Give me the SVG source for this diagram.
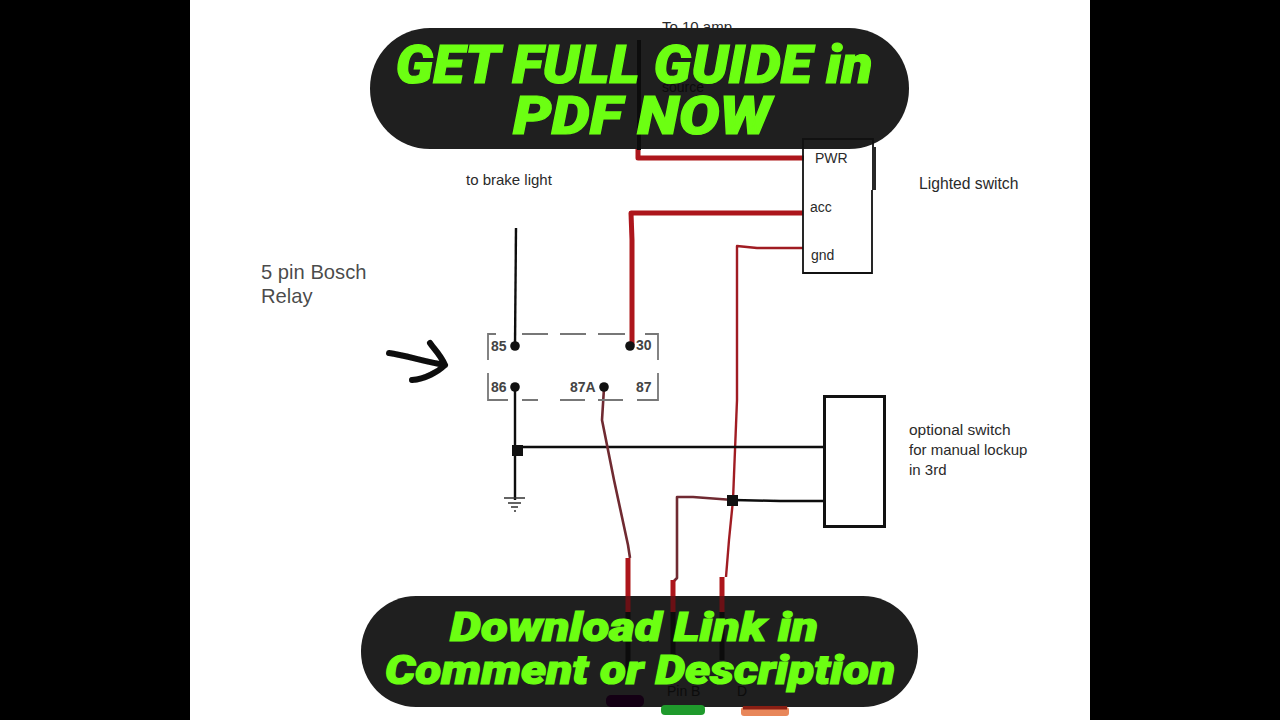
<svg xmlns="http://www.w3.org/2000/svg" width="1280" height="720" viewBox="0 0 1280 720">
<defs><filter id="soft" x="-5%" y="-5%" width="110%" height="110%"><feGaussianBlur stdDeviation="0.5"/></filter></defs>
<style>
.t{font-family:"Liberation Sans",Arial,sans-serif;fill:#2a2a2a}
.s{font-size:15.700px}
.m{font-size:14px;font-weight:bold;fill:#444}
.r{fill:none;stroke:#ad141c;stroke-width:5;stroke-linejoin:round}
.d{fill:none;stroke:#6f2a30;stroke-width:2.6;stroke-linejoin:round}
.k{fill:none;stroke:#111;stroke-width:2.4}
.b{fill:none;stroke:#777;stroke-width:1.8}
.u{fill:none;stroke:#0c0c0c;stroke-width:5}
.n{font-family:"Liberation Sans",Arial,sans-serif;font-size:14px;fill:#0c0c0c}
.g{font-family:Roboto,sans-serif;font-weight:900;font-style:italic;fill:#6cff12;text-anchor:middle;stroke:#6cff12;stroke-width:1.2}
</style>
<rect width="1280" height="720" fill="#000"/>
<rect x="190" width="900" height="720" fill="#fff"/>
<g id="connectors" filter="url(#soft)">
<path class="r" d="M638 140V158H804"/>
<path class="r" d="M632 345V240L631 213H803"/>
<path class="d" style="stroke:#a01c24;stroke-width:2.400" d="M803 248L757 248L737 246V400L733 500L729 540L726 577"/>
<path class="k" d="M516 228L515 345"/>
<path class="k" d="M515 388V500"/>
<path class="k" d="M517 447H824"/>
<path class="k" d="M733 500L780 501H828"/>
<path class="d" d="M604 388L602 420L614 480L628 545L630 558"/>
<path class="d" d="M733 500L693 497H677V578L673 582"/>
<path class="r" d="M628 558V600"/>
<path class="r" d="M673 580V600"/>
<path class="r" d="M722 577V600"/>
<path d="M504 498H525M508 503H521M511 507H518M514 511H516" stroke="#333" stroke-width="1.500" fill="none"/>
<path d="M389 353C405 355 425 362 445 365C440 354 434 349 430 343M445 365C438 372 425 379 412 380" fill="none" stroke="#0a0a0a" stroke-width="6" stroke-linecap="round" stroke-linejoin="round"/>
</g>
<g id="switch-label"><text class="t s" x="919" y="189">Lighted switch</text></g>
<g id="brake-label"><text class="t" font-size="15" x="466" y="185">to brake light</text></g>
<g id="bosch-label"><text class="t" font-size="20.200" fill-opacity=".85" x="261" y="279">5 pin Bosch</text><text class="t" font-size="20.200" fill-opacity=".85" x="261" y="303">Relay</text></g>
<g id="relay">
<path class="b" d="M488 360V334H496M522 334H548M560 334H586M598 334H625M645 334H658V360"/>
<path class="b" d="M488 373V400H508M522 400H538M560 400H585M598 400H623M637 400H658V373"/>
<circle cx="515" cy="346" r="4.800" fill="#111"/><circle cx="630" cy="346" r="4.800" fill="#111"/>
<circle cx="515" cy="387" r="4.800" fill="#111"/><circle cx="604" cy="387" r="4.800" fill="#111"/>
<text class="t m" x="491" y="351">85</text><text class="t m" x="636" y="350">30</text>
<text class="t m" x="491" y="392">86</text><text class="t m" x="570" y="392">87A</text><text class="t m" x="636" y="392">87</text>
</g>
<g id="junctions"><rect x="512" y="445" width="11" height="11" fill="#111"/><rect x="727" y="495" width="11" height="11" fill="#111"/></g>
<g id="optional-switch"><rect x="824.500" y="396.500" width="60" height="130" fill="#fff" stroke="#111" stroke-width="3"/></g>
<g id="optional-label"><text class="t" font-size="15.500" x="909" y="435">optional switch</text><text class="t" font-size="15" x="909" y="455">for manual lockup</text><text class="t" font-size="15" x="909" y="475">in 3rd</text></g>
<g id="source-label-top"><text class="t" font-size="15" x="662" y="32">To 10 amp</text></g>
<g id="banner-top"><rect x="370" y="28" width="539" height="121" rx="60" fill="#1f1f1f"/>
<path class="u" style="stroke-width:4" d="M639 40V150"/>
<text class="n" x="662" y="92">source</text>
<text class="g" font-size="53" x="634" y="83" textLength="477" lengthAdjust="spacingAndGlyphs">GET FULL GUIDE in</text><text class="g" font-size="53" x="642" y="134" textLength="258" lengthAdjust="spacingAndGlyphs">PDF NOW</text></g>
<g id="switch">
<path class="k" style="stroke-width:1.800" d="M802 139H873V190M875 147V190"/>
<path class="k" style="stroke-width:1.800" d="M872 190V273H803V139"/>
<text class="t" font-size="14" x="815" y="163">PWR</text>
<text class="t" font-size="14" x="810" y="212">acc</text>
<text class="t" font-size="14" x="811" y="260">gnd</text>
</g>
<g id="banner-bottom"><rect x="361" y="596" width="557" height="111" rx="55" fill="#1f1f1f"/>
<path d="M628 596V612M673 596V612M722 596V612" fill="none" stroke="#6a1015" stroke-width="5"/>
<path class="u" d="M628 612V678M673 612V660M722 612V660"/>
<text class="n" x="667" y="696">Pin B</text><text class="n" x="737" y="696">D</text>
<text class="g" font-size="40" x="634" y="641" textLength="368" lengthAdjust="spacingAndGlyphs">Download Link in</text><text class="g" font-size="40" x="640" y="684" textLength="510" lengthAdjust="spacingAndGlyphs">Comment or Description</text></g>
<g id="pins">
<rect x="606" y="695" width="38" height="12" rx="5" fill="#140014"/>
<rect x="661" y="705" width="44" height="10" rx="4" fill="#1f9a2c"/>
<rect x="741" y="707" width="48" height="9" rx="3" fill="#e8875a"/>
<rect x="743" y="706" width="44" height="3.500" fill="#8a1f14"/>
</g>
</svg>
